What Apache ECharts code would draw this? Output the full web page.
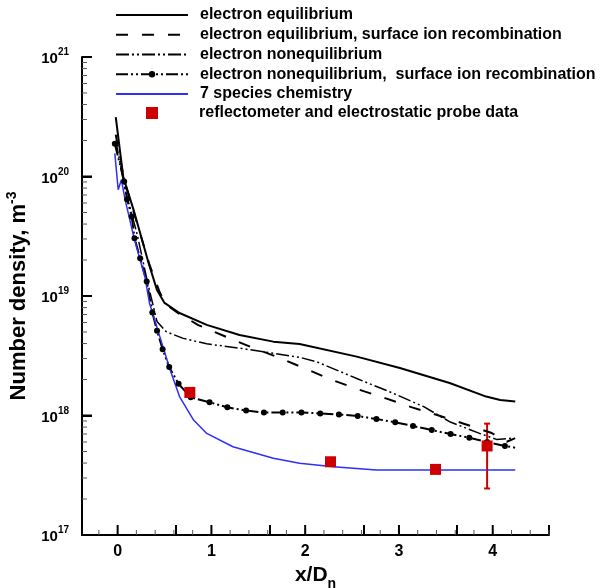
<!DOCTYPE html>
<html><head><meta charset="utf-8">
<script src="https://cdn.jsdelivr.net/npm/echarts@6/dist/echarts.min.js"></script>
<style>html,body{margin:0;padding:0;background:#fff}#c{width:602px;height:588px}</style>
</head><body><div id="c"></div>
<script>
// ---- data ----
const eqX = [-0.02, 0.06, 0.17, 0.33, 0.42, 0.50, 0.66, 0.95, 1.30, 1.66, 1.94, 2.55, 3.01, 3.54, 3.93, 4.08, 4.24];
const eqY = [3.14e20, 9.9e19, 5.26e19, 1.89e19, 1.12e19, 8.75e18, 7.21e18, 5.73e18, 4.72e18, 4.15e18, 3.97e18, 3.11e18, 2.50e18, 1.87e18, 1.44e18, 1.35e18, 1.31e18];

const eqSirX = [-0.02, 0.07, 0.18, 0.34, 0.45, 0.52, 0.65, 0.86, 1.16, 1.43, 1.72, 2.01, 2.29, 2.57, 2.86, 3.14, 3.44, 3.70, 3.99, 4.15, 4.24];
const eqSirY = [2.24e20, 9.3e19, 4.79e19, 1.82e19, 1.07e19, 8.43e18, 7.16e18, 5.71e18, 4.54e18, 3.72e18, 3.05e18, 2.45e18, 1.98e18, 1.65e18, 1.39e18, 1.17e18, 9.9e17, 8.5e17, 7.13e17, 6.03e17, 6.46e17];

const neqX = [-0.02, 0.08, 0.21, 0.32, 0.42, 0.52, 0.70, 0.95, 1.30, 1.66, 1.94, 2.12, 2.55, 2.90, 3.26, 3.54, 3.86, 4.04, 4.21];
const neqY = [2.0e20, 7.76e19, 3.24e19, 1.29e19, 6.11e18, 5.01e18, 4.42e18, 3.98e18, 3.66e18, 3.31e18, 3.07e18, 2.82e18, 2.04e18, 1.58e18, 1.19e18, 8.87e17, 7.08e17, 6.31e17, 6.46e17];

const neqSirX = [-0.03, 0.07, 0.10, 0.15, 0.18, 0.24, 0.31, 0.37, 0.42, 0.48, 0.55, 0.65, 0.78, 0.98, 1.17, 1.37, 1.56, 1.76, 1.96, 2.16, 2.36, 2.56, 2.76, 2.96, 3.15, 3.35, 3.55, 3.75, 3.94, 4.13, 4.24];
const neqSirY = [1.88e20, 9.08e19, 6.46e19, 4.62e19, 3.05e19, 2.07e19, 1.32e19, 7.26e18, 5.13e18, 3.58e18, 2.54e18, 1.84e18, 1.42e18, 1.29e18, 1.17e18, 1.10e18, 1.06e18, 1.06e18, 1.06e18, 1.04e18, 1.02e18, 9.9e17, 9.35e17, 8.77e17, 8.17e17, 7.55e17, 7.0e17, 6.52e17, 6.0e17, 5.56e17, 5.38e17];

const chemX = [-0.03, 0.006, 0.04, 0.08, 0.18, 0.29, 0.34, 0.45, 0.56, 0.66, 0.81, 0.95, 1.23, 1.66, 1.94, 2.30, 2.76, 3.54, 4.24];
const chemY = [1.56e20, 7.74e19, 9.4e19, 6.38e19, 2.95e19, 1.45e19, 8.71e18, 4.57e18, 2.40e18, 1.44e18, 9.16e17, 7.08e17, 5.48e17, 4.39e17, 3.98e17, 3.72e17, 3.50e17, 3.50e17, 3.50e17];

const expX = [0.77, 2.27, 3.39, 3.94];
const expY = [1.56e18, 4.1e17, 3.54e17, 5.56e17];
const errX = [3.94];
const errLow = [2.45e17];
const errHigh = [8.55e17];

const names = [
  'electron equilibrium',
  'electron equilibrium, surface ion recombination',
  'electron nonequilibrium',
  'electron nonequilibrium,  surface ion recombination',
  '7 species chemistry',
  'reflectometer and electrostatic probe data'
];
const xMin = -0.38, xMax = 4.6;
const yMin = 1e17, yMax = 1e21;
const xMajor = [0, 1, 2, 3, 4];
const xMinor = [-0.2, 0.2, 0.4, 0.6, 0.8, 1.2, 1.4, 1.6, 1.8, 2.2, 2.4, 2.6, 2.8, 3.2, 3.4, 3.6, 3.8, 4.2, 4.4, 4.6];
const yMajor = [1e17, 1e18, 1e19, 1e20, 1e21];
const yMinorMult = [2, 3, 4, 5, 6, 7, 8, 9];

// ---- build ----
const FONT = "'Liberation Sans', Arial, Helvetica, sans-serif";
const zip = (xs, ys) => xs.map((x, i) => [x, ys[i]]);
const yMinor = [];
yMajor.slice(0, -1).forEach(d => yMinorMult.forEach(k => yMinor.push(k * d)));

const neqSirData = zip(neqSirX, neqSirY).map((p, i, a) => i === a.length - 1 ? { value: p, symbol: 'none' } : p);
const legendLineItems = names.slice(0, 5).map((n, i) => i === 3 ? { name: n } : { name: n, itemStyle: { opacity: 0 } });

// axis tick marks, drawn through the axes' own scales
function tickSeries(name, data, horizontal, len, width, color) {
  return {
    name, type: 'custom', data, encode: { x: 0, y: 1 }, clip: false,
    renderItem: (params, api) => {
      const p = api.coord([api.value(0), api.value(1)]);
      const shape = horizontal
        ? { x1: p[0], y1: p[1], x2: p[0] + len, y2: p[1] }
        : { x1: p[0], y1: p[1], x2: p[0], y2: p[1] - len };
      return { type: 'group', children: [{ type: 'line', shape: shape, style: { stroke: color, lineWidth: width } }] };
    }
  };
}

const chart = echarts.init(document.getElementById('c'));
chart.setOption({
  animation: false,
  grid: { left: 82, right: 53, top: 57, bottom: 53, containLabel: false, outerBoundsContain: 'axisLabel' },
  legend: [
    {
      data: legendLineItems,
      orient: 'vertical', left: 115, top: 7, padding: 0,
      itemWidth: 72, itemHeight: 8, itemGap: 3.75,
      selectedMode: false,
      textStyle: { fontFamily: FONT, fontWeight: 'bold', fontSize: 16, color: '#000', padding: [0, 0, 0, 7] }
    },
    {
      data: [names[5]],
      orient: 'vertical', left: 146, top: 105, padding: 0,
      itemWidth: 12, itemHeight: 12, icon: 'rect',
      selectedMode: false,
      textStyle: { fontFamily: FONT, fontWeight: 'bold', fontSize: 16, color: '#000', padding: [0, 0, 0, 36] }
    }
  ],
  xAxis: {
    type: 'value', min: xMin, max: xMax, interval: 1,
    splitLine: { show: false },
    axisLine: { show: true, onZero: false, lineStyle: { color: '#000', width: 2 } },
    axisTick: { show: true, inside: true, length: 10, lineStyle: { color: '#000', width: 2 } },
    axisLabel: { customValues: xMajor, margin: 9, fontFamily: FONT, fontWeight: 'bold', fontSize: 16, color: '#000' },
    name: '{a|x/D}{s|n}', nameLocation: 'middle', nameGap: 28,
    nameTextStyle: {
      rich: {
        a: { fontFamily: FONT, fontWeight: 'bold', fontSize: 21, color: '#000', verticalAlign: 'bottom', padding: [0, 0, 5, 0] },
        s: { fontFamily: FONT, fontWeight: 'bold', fontSize: 14, color: '#000', verticalAlign: 'bottom' }
      }
    }
  },
  yAxis: {
    type: 'log', min: yMin, max: yMax, logBase: 10,
    splitLine: { show: false },
    axisLine: { show: true, onZero: false, lineStyle: { color: '#000', width: 2 } },
    axisTick: { show: true, inside: true, length: 10, lineStyle: { color: '#000', width: 2 } },
    axisLabel: {
      margin: 13,
      formatter: v => '{a|10}{b|' + Math.round(Math.log10(v)) + '}',
      rich: {
        a: { fontFamily: FONT, fontWeight: 'bold', fontSize: 15, color: '#000', verticalAlign: 'bottom' },
        b: { fontFamily: FONT, fontWeight: 'bold', fontSize: 10, color: '#000', verticalAlign: 'bottom', padding: [0, 0, 9, 0] }
      }
    },
    name: '{a|Number density, m}{s|-3}', nameLocation: 'middle', nameGap: 32, nameRotate: 90,
    nameTextStyle: {
      rich: {
        a: { fontFamily: FONT, fontWeight: 'bold', fontSize: 22, color: '#000', verticalAlign: 'bottom' },
        s: { fontFamily: FONT, fontWeight: 'bold', fontSize: 14, color: '#000', verticalAlign: 'bottom', padding: [0, 0, 11, 0] }
      }
    }
  },
  series: [
    { name: names[0], type: 'line', data: zip(eqX, eqY), symbol: 'none', color: '#000',
      lineStyle: { color: '#000', width: 2 } },
    { name: names[1], type: 'line', data: zip(eqSirX, eqSirY), symbol: 'none', color: '#000',
      lineStyle: { color: '#000', width: 2, type: [12, 14] } },
    { name: names[2], type: 'line', data: zip(neqX, neqY), symbol: 'none', color: '#000',
      lineStyle: { color: '#000', width: 1.5, type: [13, 3, 2, 3, 2, 3] } },
    { name: names[3], type: 'line', data: neqSirData, symbol: 'circle', symbolSize: 6, showSymbol: true, color: '#000',
      itemStyle: { color: '#000' },
      lineStyle: { color: '#000', width: 2, type: [12, 3, 2, 3, 2, 3] } },
    { name: names[4], type: 'line', data: zip(chemX, chemY), symbol: 'none', color: '#2f2ff5',
      lineStyle: { color: '#2f2ff5', width: 1.5 } },
    { name: 'errbar', type: 'custom', data: errX.map((x, i) => [x, errLow[i], errHigh[i]]),
      encode: { x: 0, y: [1, 2] }, z: 3,
      renderItem: (params, api) => {
        const lo = api.coord([api.value(0), api.value(1)]);
        const hi = api.coord([api.value(0), api.value(2)]);
        const st = { stroke: '#cc0000', lineWidth: 2 };
        return { type: 'group', children: [
          { type: 'line', shape: { x1: lo[0], y1: lo[1], x2: hi[0], y2: hi[1] }, style: st },
          { type: 'line', shape: { x1: lo[0] - 3, y1: lo[1], x2: lo[0] + 3, y2: lo[1] }, style: st },
          { type: 'line', shape: { x1: hi[0] - 3, y1: hi[1], x2: hi[0] + 3, y2: hi[1] }, style: st }
        ] };
      } },
    { name: names[5], type: 'scatter', data: zip(expX, expY), symbol: 'rect', symbolSize: 11, z: 4,
      itemStyle: { color: '#cc0000', opacity: 1 }, color: '#cc0000' },
    tickSeries('xMinorTicks', xMinor.map(v => [v, yMin]), false, 5, 1, '#555'),
    tickSeries('xMajorTicks', xMajor.map(v => [v, yMin]), false, 10, 2, '#000'),
    tickSeries('yMinorTicks', yMinor.map(v => [xMin, v]), true, 5, 1, '#555'),
    tickSeries('yMajorTicks', yMajor.map(v => [xMin, v]), true, 10, 2, '#000')
  ]
});
</script>
</body></html>
